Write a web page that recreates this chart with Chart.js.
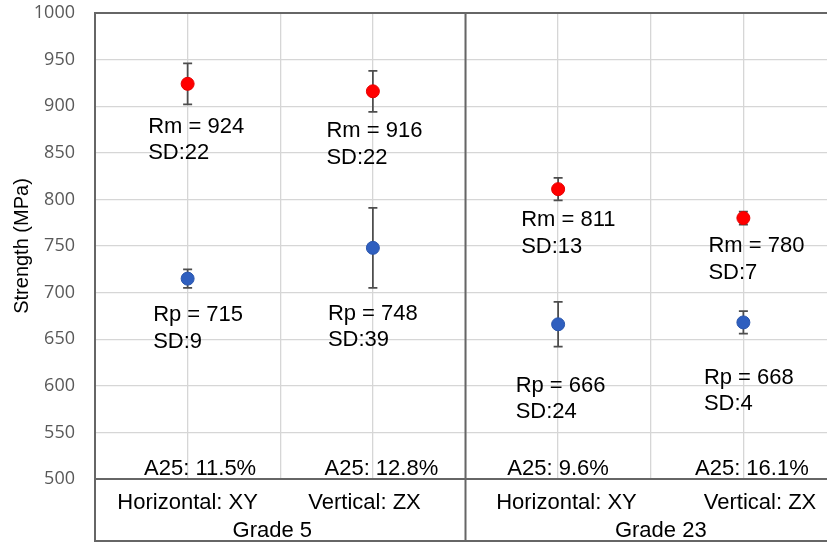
<!DOCTYPE html>
<html><head><meta charset="utf-8">
<script src="https://cdn.jsdelivr.net/npm/chart.js@4.4.0/dist/chart.umd.min.js"></script>
<style>
html,body{margin:0;padding:0;background:#fff;overflow:hidden}
#wrap{width:827px;height:545px;overflow:hidden;position:relative;background:#fff}
canvas{display:block}
</style></head><body>
<div id="wrap"><canvas id="c" width="846" height="545"></canvas></div>
<script>
// ---- data ----
const categories = ['Horizontal: XY', 'Vertical: ZX', 'Horizontal: XY', 'Vertical: ZX'];
const groups = ['Grade 5', 'Grade 23'];
const rmValues = [924, 916, 811, 780];
const rmErrors = [22, 22, 12, 7];
const rmSD = [22, 22, 13, 7];
const rpValues = [715, 748, 666, 668];
const rpErrors = [10, 43, 24, 12];
const rpSD = [9, 39, 24, 4];
const a25Values = ['11.5%', '12.8%', '9.6%', '16.1%'];
const yMin = 500, yMax = 1000, yStep = 50;

// ---- layout (positions, not data) ----
const catLabelPos = [0, 0.955, 2.045, 3.09];
const groupPos = [0.457, 2.554];
const rmLabelOff = [[-39.5, 49], [-46.5, 46], [-37, 37], [-35, 34]];
const rpLabelOff = [[-34.5, 42.5], [-45, 72], [-42.5, 67.5], [-39.5, 61.5]];
const a25Dx = [12.5, 8.5, 0, 8.5];
const LINE_GAP = 26.5;
const FRAME = '#666666';
const LABEL_FONT = '22px "Liberation Sans", Arial, sans-serif';

const toPts = vals => vals.map((v, i) => ({x: i, y: v}));
const noPad = s => { s.paddingTop = 0; s.paddingBottom = 0; s.paddingLeft = 0; s.paddingRight = 0; };

const annotPlugin = {
  id: 'annot',
  beforeDatasetsDraw(chart) {
    const ctx = chart.ctx, ys = chart.scales.y;
    const errs = [rmErrors, rpErrors];
    ctx.save();
    ctx.strokeStyle = '#4d4d4d';
    ctx.lineWidth = 1.75;
    chart.data.datasets.forEach((ds, di) => {
      const meta = chart.getDatasetMeta(di);
      meta.data.forEach((el, i) => {
        const v = ds.data[i].y, e = errs[di][i];
        const yt = ys.getPixelForValue(v + e), yb = ys.getPixelForValue(v - e);
        ctx.beginPath();
        ctx.moveTo(el.x, yt); ctx.lineTo(el.x, yb);
        ctx.moveTo(el.x - 4.5, yt); ctx.lineTo(el.x + 4.5, yt);
        ctx.moveTo(el.x - 4.5, yb); ctx.lineTo(el.x + 4.5, yb);
        ctx.stroke();
      });
    });
    ctx.restore();
  },
  afterDatasetsDraw(chart) {
    const ctx = chart.ctx, xs = chart.scales.x, ca = chart.chartArea;
    ctx.save();
    ctx.font = LABEL_FONT;
    ctx.fillStyle = '#000';
    ctx.textBaseline = 'alphabetic';
    ctx.textAlign = 'left';
    const m0 = chart.getDatasetMeta(0).data, m1 = chart.getDatasetMeta(1).data;
    m0.forEach((el, i) => {
      const x = el.x + rmLabelOff[i][0], y = el.y + rmLabelOff[i][1];
      ctx.fillText('Rm = ' + rmValues[i], x, y);
      ctx.fillText('SD:' + rmSD[i], x, y + LINE_GAP);
    });
    m1.forEach((el, i) => {
      const x = el.x + rpLabelOff[i][0], y = el.y + rpLabelOff[i][1];
      ctx.fillText('Rp = ' + rpValues[i], x, y);
      ctx.fillText('SD:' + rpSD[i], x, y + LINE_GAP);
    });
    ctx.textAlign = 'center';
    a25Values.forEach((t, i) => {
      ctx.fillText('A25: ' + t, xs.getPixelForValue(i) + a25Dx[i], ca.bottom - 4.5);
    });
    groups.forEach((g, i) => {
      ctx.fillText(g, xs.getPixelForValue(groupPos[i]), 537);
    });
    ctx.restore();
  },
  afterDraw(chart) {
    const ctx = chart.ctx, xs = chart.scales.x, ca = chart.chartArea;
    const bottom = 541;
    ctx.save();
    ctx.strokeStyle = FRAME;
    ctx.lineWidth = 2;
    ctx.beginPath();
    ctx.moveTo(ca.left, ca.top); ctx.lineTo(ca.right, ca.top);
    ctx.moveTo(ca.left, ca.bottom); ctx.lineTo(ca.right, ca.bottom);
    ctx.moveTo(ca.left, bottom); ctx.lineTo(ca.right, bottom);
    ctx.moveTo(ca.left, ca.top - 1); ctx.lineTo(ca.left, bottom + 1);
    const xd = xs.getPixelForValue(1.5);
    ctx.moveTo(xd, ca.top - 1); ctx.lineTo(xd, bottom + 1);
    ctx.moveTo(ca.right, ca.top - 1); ctx.lineTo(ca.right, bottom + 1);
    ctx.stroke();
    ctx.restore();
  }
};

new Chart(document.getElementById('c'), {
  type: 'scatter',
  data: {
    datasets: [
      {label: 'Rm', data: toPts(rmValues), pointRadius: 6.5, pointBackgroundColor: '#ff0000', pointBorderColor: '#e60000', pointBorderWidth: 1},
      {label: 'Rp', data: toPts(rpValues), pointRadius: 6.5, pointBackgroundColor: '#2f5fbf', pointBorderColor: '#2a56ad', pointBorderWidth: 1}
    ]
  },
  options: {
    responsive: false,
    animation: false,
    layout: {autoPadding: false, padding: {top: 13, right: 10, bottom: 0, left: 0}},
    plugins: {legend: {display: false}, tooltip: {enabled: false}},
    scales: {
      x: {
        type: 'linear', min: -0.5, max: 3.5, position: 'bottom', weight: 0,
        ticks: {display: false, stepSize: 0.5},
        grid: {color: '#d6d6d6', lineWidth: 1.3, drawTicks: false},
        border: {display: false},
        afterFit: s => { s.height = 0; noPad(s); }
      },
      xl: {
        type: 'linear', min: -0.5, max: 3.5, position: 'bottom', weight: 1,
        afterBuildTicks: s => { s.ticks = catLabelPos.map(v => ({value: v})); },
        ticks: {
          autoSkip: false, maxRotation: 0, padding: 11,
          color: '#000', font: {family: '"Liberation Sans", Arial, sans-serif', size: 22},
          callback: (v, i) => categories[i]
        },
        grid: {display: false, drawTicks: false},
        border: {display: false},
        afterFit: s => { s.height = 66; noPad(s); }
      },
      y: {
        min: yMin, max: yMax,
        ticks: {stepSize: yStep, padding: 20, color: '#595959', font: {family: '"Open Sans", sans-serif', size: 18}, callback: v => String(v)},
        grid: {color: '#d6d6d6', lineWidth: 1.3, drawTicks: false},
        border: {display: false},
        title: {display: true, text: 'Strength (MPa)', color: '#000', font: {family: '"Liberation Sans", Arial, sans-serif', size: 20}, padding: {top: 10, bottom: 0}},
        afterFit: s => { s.width = 95; noPad(s); }
      }
    }
  },
  plugins: [annotPlugin]
});
</script>
</body></html>
